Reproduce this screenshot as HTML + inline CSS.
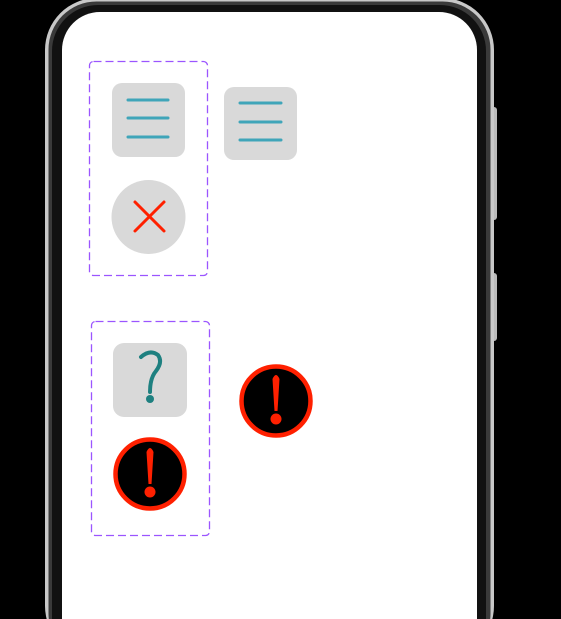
<!DOCTYPE html>
<html><head><meta charset="utf-8"><style>
html,body{margin:0;width:561px;height:619px;background:#000;overflow:hidden;position:relative;font-family:"Liberation Sans",sans-serif}
svg{position:absolute;left:0;top:0;overflow:hidden;display:block}
</style></head><body>
<svg width="561" height="619" viewBox="0 0 561 619">
<rect x="490" y="107" width="7" height="113" rx="3" fill="#bbb"/>
<rect x="490" y="273" width="7" height="68" rx="3" fill="#bbb"/>
<rect x="45" y="-2" width="449" height="660" rx="52" fill="#c8c8c8"/>
<rect x="48.5" y="1.5" width="442" height="660" rx="48" fill="#3a3a3a"/>
<rect x="52" y="5" width="434" height="660" rx="46" fill="#111"/>
<rect x="62" y="12" width="415" height="650" rx="38" fill="#fff"/>
<rect x="89.5" y="61.5" width="118" height="214" rx="4" fill="none" stroke="#9b55ff" stroke-width="1.3" stroke-dasharray="8 4"/>
<g>
<rect x="112" y="83" width="73" height="74" rx="10" fill="#d9d9d9"/>
<g stroke="#3fa5b9" stroke-width="3" stroke-linecap="round"><line x1="128" y1="100" x2="168" y2="100"/><line x1="128" y1="118" x2="168" y2="118"/><line x1="128" y1="137" x2="168" y2="137"/></g></g>
<g>
<rect x="224" y="87" width="73" height="73" rx="10" fill="#d9d9d9"/>
<g stroke="#3fa5b9" stroke-width="3" stroke-linecap="round"><line x1="240" y1="103" x2="281" y2="103"/><line x1="240" y1="122" x2="281" y2="122"/><line x1="240" y1="140" x2="281" y2="140"/></g></g>
<g>
<circle cx="148.5" cy="217" r="37" fill="#d9d9d9"/>
<g stroke="#ff2000" stroke-width="3" stroke-linecap="round"><line x1="135" y1="202" x2="164" y2="231"/><line x1="164" y1="202" x2="135" y2="231"/></g></g>
<rect x="91.5" y="321.5" width="118" height="214" rx="4" fill="none" stroke="#9b55ff" stroke-width="1.3" stroke-dasharray="8 4"/>
<g>
<rect x="113" y="343" width="74" height="74" rx="11" fill="#d9d9d9"/>
<path d="M141 357 Q150 349 158 355 Q163 362 156 371 Q150 378 150 392" fill="none" stroke="#1e8080" stroke-width="4" stroke-linecap="round"/>
<circle cx="150" cy="399" r="4" fill="#1e8080"/></g>
<g>
<circle cx="150" cy="474" r="34.5" fill="#000" stroke="#ff2000" stroke-width="4.5"/>
<path d="M146.5 452 Q150 444 153.5 452 L151.5 484 L148.5 484 Z" fill="#ff2000"/><circle cx="150" cy="492" r="5.5" fill="#ff2000"/></g>
<g>
<circle cx="276" cy="401" r="34.5" fill="#000" stroke="#ff2000" stroke-width="4.5"/>
<path d="M272.5 379 Q276 371 279.5 379 L277.5 411 L274.5 411 Z" fill="#ff2000"/><circle cx="276" cy="419" r="5.5" fill="#ff2000"/></g>
</svg>
</body></html>
